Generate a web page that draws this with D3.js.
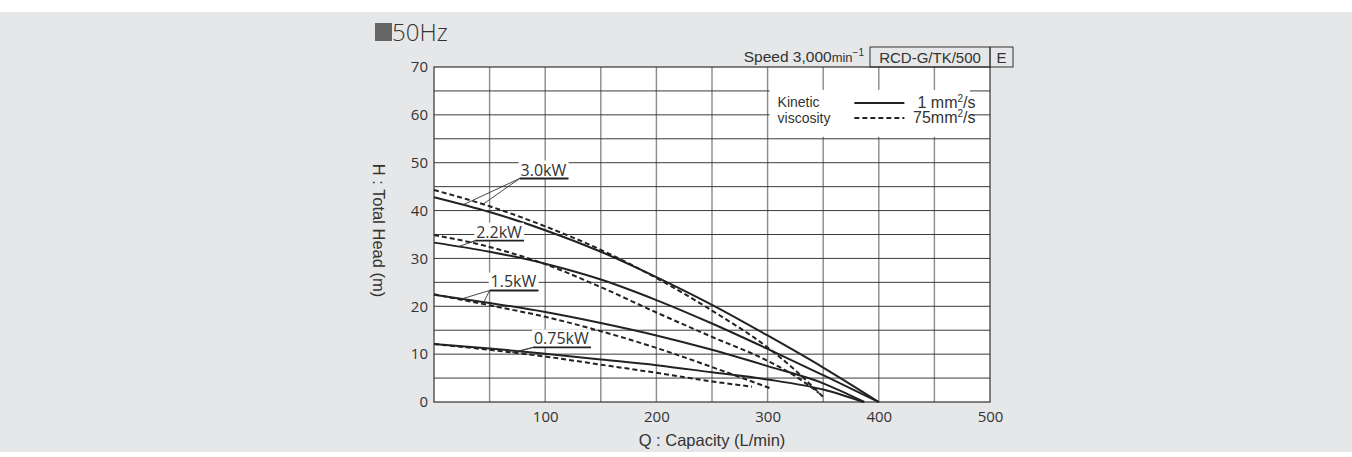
<html>
<head>
<meta charset="utf-8">
<script src="https://d3js.org/d3.v7.min.js"></script>
<style>
  body { margin: 0; background: #fff; }
  svg text { font-family: "Open Sans", sans-serif; fill: #333; }
  .helv { font-family: "Liberation Sans", Arial, sans-serif !important; }
  .grid-h line { stroke: #3a3a3a; stroke-width: 1; }
  .grid-v line { stroke: #8a8a8a; stroke-width: 1.4; }
  .axis text { font-size: 15px; }
  .curve { fill: none; stroke: #222; stroke-width: 2; }
  .curve.dash { stroke-dasharray: 5,3; }
  .leader { stroke: #333; stroke-width: 0.9; }
</style>
</head>
<body>
<svg id="chart" width="1352" height="457"></svg>
<script>
// axis ticks
var qTicks = [100, 200, 300, 400, 500];
var hTicks = [0, 10, 20, 30, 40, 50, 60, 70];
var qGrid = [50, 100, 150, 200, 250, 300, 350, 400, 450];
var hGrid = [5, 10, 15, 20, 25, 30, 35, 40, 45, 50, 55, 60, 65];

// 3.0kW
var q30s = [0, 50, 100, 150, 200, 250, 300, 350, 400];
var h30s = [42.8, 39.7, 35.9, 31.4, 26.1, 20.3, 13.9, 7.2, 0];
var q30d = [0, 50, 100, 150, 200, 250, 300, 325, 351];
var h30d = [44.3, 40.9, 36.7, 31.8, 25.9, 19.1, 11.4, 6.6, 0.8];
// 2.2kW
var q22s = [0, 50, 100, 150, 200, 250, 300, 350, 400];
var h22s = [33.3, 31.4, 28.9, 25.6, 21.3, 16.4, 11.1, 5.6, 0];
var q22d = [0, 50, 100, 150, 200, 250, 300, 325, 346];
var h22d = [34.9, 32.4, 28.8, 24.0, 18.7, 13.6, 8.6, 5.4, 1.9];
// 1.5kW
var q15s = [0, 50, 100, 150, 200, 250, 300, 350, 387];
var h15s = [22.4, 20.7, 18.8, 16.5, 13.9, 10.9, 7.5, 3.9, 0];
var q15d = [0, 50, 100, 150, 200, 250, 302];
var h15d = [22.5, 20.2, 17.8, 14.8, 11.3, 7.3, 2.9];
// 0.75kW
var q075s = [0, 50, 100, 150, 200, 250, 300, 350, 386];
var h075s = [12.1, 11.2, 10.1, 8.9, 7.7, 6.2, 4.7, 2.6, 0];
var q075d = [0, 50, 100, 150, 200, 250, 286];
var h075d = [12.1, 10.9, 9.5, 7.8, 6.1, 4.3, 3.2];

// labels: name, underline left end (Q,H), leader targets on solid/dashed (Q)
var labelNames = ["3.0kW", "2.2kW", "1.5kW", "0.75kW"];
var labelQ = [77, 37, 50, 89];
var labelH = [46.7, 33.7, 23.3, 11.4];
var leaderSolidQ = [26, 22, 25, 77];
var leaderDashQ = [44, 32, 44, 70];

var series = [
  {s: [q30s, h30s], d: [q30d, h30d]},
  {s: [q22s, h22s], d: [q22d, h22d]},
  {s: [q15s, h15s], d: [q15d, h15d]},
  {s: [q075s, h075s], d: [q075d, h075d]}
];

var svg = d3.select("#chart");
var margin = {top: 67, left: 434, right: 362, bottom: 55};
var width = 1352 - margin.left - margin.right,
    height = 457 - margin.top - margin.bottom;

// page background
svg.append("rect").attr("x", 0).attr("y", 12).attr("width", 1352).attr("height", 440).attr("fill", "#e6e7e8");

var x = d3.scaleLinear().domain([0, 500]).range([0, width]);
var y = d3.scaleLinear().domain([0, 70]).range([height, 0]);

var g = svg.append("g").attr("transform", "translate(" + margin.left + "," + margin.top + ")");

g.append("rect").attr("width", width).attr("height", height).attr("fill", "#fff");

g.append("g").attr("class", "grid-v")
  .selectAll("line").data(qGrid).enter().append("line")
  .attr("x1", function(d) { return x(d); }).attr("x2", function(d) { return x(d); })
  .attr("y1", 0).attr("y2", height);

g.append("g").attr("class", "grid-h")
  .selectAll("line").data(hGrid).enter().append("line")
  .attr("x1", 0).attr("x2", width)
  .attr("y1", function(d) { return y(d); }).attr("y2", function(d) { return y(d); });

g.append("rect").attr("width", width).attr("height", height)
  .attr("fill", "none").attr("stroke", "#333").attr("stroke-width", 1.2);

// axes labels
var yAxis = g.append("g").attr("class", "axis")
  .call(d3.axisLeft(y).tickValues(hTicks).tickSize(0).tickPadding(6));
yAxis.select(".domain").remove();
yAxis.selectAll("text").attr("fill", "#333");

var xAxis = g.append("g").attr("class", "axis")
  .attr("transform", "translate(0," + height + ")")
  .call(d3.axisBottom(x).tickValues(qTicks).tickSize(0).tickPadding(9));
xAxis.select(".domain").remove();
xAxis.selectAll("text").attr("fill", "#333");

// legend box
var lg = g.append("g");
lg.append("rect")
  .attr("x", x(300) + 2).attr("y", y(65) - 1)
  .attr("width", x(482) - x(300) - 2).attr("height", y(55) - y(65) - 1)
  .attr("fill", "#fff");
lg.append("text").attr("class", "helv").attr("x", x(300) + 10).attr("y", y(65) + 16)
  .style("font-size", "14px").text("Kinetic");
lg.append("text").attr("class", "helv").attr("x", x(300) + 10).attr("y", y(65) + 32)
  .style("font-size", "14px").text("viscosity");
lg.append("line").attr("x1", x(378)).attr("x2", x(423)).attr("y1", y(65) + 12).attr("y2", y(65) + 12)
  .attr("stroke", "#222").attr("stroke-width", 2);
lg.append("line").attr("x1", x(378)).attr("x2", x(423)).attr("y1", y(65) + 27).attr("y2", y(65) + 27)
  .attr("stroke", "#222").attr("stroke-width", 2).attr("stroke-dasharray", "5,3");
var t1 = lg.append("text").attr("class", "helv").attr("x", x(487)).attr("y", y(65) + 17)
  .attr("text-anchor", "end").style("font-size", "16px");
t1.append("tspan").text("1 mm");
t1.append("tspan").attr("dy", -6).style("font-size", "10px").text("2");
t1.append("tspan").attr("dy", 6).text("/s");
var t2 = lg.append("text").attr("class", "helv").attr("x", x(487)).attr("y", y(65) + 32)
  .attr("text-anchor", "end").style("font-size", "16px");
t2.append("tspan").text("75mm");
t2.append("tspan").attr("dy", -6).style("font-size", "10px").text("2");
t2.append("tspan").attr("dy", 6).text("/s");

// curves
var line = d3.line()
  .x(function(d) { return x(d[0]); })
  .y(function(d) { return y(d[1]); })
  .curve(d3.curveMonotoneX);

function pts(pair) { return pair[0].map(function(q, i) { return [q, pair[1][i]]; }); }
function interp(pair, q) {
  var qs = pair[0], hs = pair[1];
  for (var i = 1; i < qs.length; i++) {
    if (q <= qs[i]) {
      var t = (q - qs[i - 1]) / (qs[i] - qs[i - 1]);
      return hs[i - 1] + t * (hs[i] - hs[i - 1]);
    }
  }
  return hs[hs.length - 1];
}

series.forEach(function(s) {
  g.append("path").attr("class", "curve").attr("d", line(pts(s.s)));
  g.append("path").attr("class", "curve dash").attr("d", line(pts(s.d)));
});

// power labels
labelNames.forEach(function(name, i) {
  var lx = x(labelQ[i]), ly = y(labelH[i]);
  var lab = g.append("g");
  var bg = lab.append("rect").attr("fill", "#fff");
  var txt = lab.append("text").attr("x", lx + 1).attr("y", ly - 3)
    .style("font-size", "16px").text(name);
  var bb = txt.node().getBBox();
  bg.attr("x", bb.x - 2).attr("y", bb.y + 2).attr("width", bb.width + 4).attr("height", bb.height - 4);
  lab.append("line").attr("x1", lx).attr("x2", lx + bb.width + 3)
    .attr("y1", ly).attr("y2", ly).attr("stroke", "#222").attr("stroke-width", 1.8);
  var s = series[i];
  lab.append("line").attr("class", "leader")
    .attr("x1", lx).attr("y1", ly)
    .attr("x2", x(leaderSolidQ[i])).attr("y2", y(interp(s.s, leaderSolidQ[i])));
  lab.append("line").attr("class", "leader")
    .attr("x1", lx).attr("y1", ly)
    .attr("x2", x(leaderDashQ[i])).attr("y2", y(interp(s.d, leaderDashQ[i])));
});

// axis titles
svg.append("text").attr("class", "helv")
  .attr("transform", "translate(373," + (margin.top + height / 2 - 4) + ") rotate(90)")
  .attr("text-anchor", "middle").style("font-size", "16.5px").text("H : Total Head (m)");
svg.append("text").attr("class", "helv")
  .attr("x", margin.left + x(250)).attr("y", 446)
  .attr("text-anchor", "middle").style("font-size", "16.5px").text("Q : Capacity (L/min)");

// header
svg.append("rect").attr("x", 375).attr("y", 23).attr("width", 17).attr("height", 18).attr("fill", "#666");
svg.append("text").attr("x", 392).attr("y", 41).style("font-size", "24px").style("font-weight", 300)
  .text("50Hz");

var sp = svg.append("text").attr("class", "helv").attr("x", margin.left + width - 126).attr("y", 62)
  .attr("text-anchor", "end").style("font-size", "15.5px");
sp.append("tspan").text("Speed 3,000");
sp.append("tspan").style("font-size", "13px").text("min");
sp.append("tspan").attr("dy", -6).style("font-size", "10px").text("\u22121");

svg.append("rect").attr("x", margin.left + width - 120).attr("y", 47).attr("width", 120).attr("height", 20)
  .attr("fill", "none").attr("stroke", "#333").attr("stroke-width", 1);
svg.append("text").attr("class", "helv").attr("x", margin.left + width - 60).attr("y", 62.5)
  .attr("text-anchor", "middle").style("font-size", "15px").text("RCD-G/TK/500");
svg.append("rect").attr("x", margin.left + width).attr("y", 47).attr("width", 23).attr("height", 20)
  .attr("fill", "none").attr("stroke", "#333").attr("stroke-width", 1);
svg.append("text").attr("class", "helv").attr("x", margin.left + width + 11.5).attr("y", 62.5)
  .attr("text-anchor", "middle").style("font-size", "15px").text("E");
</script>
</body>
</html>
